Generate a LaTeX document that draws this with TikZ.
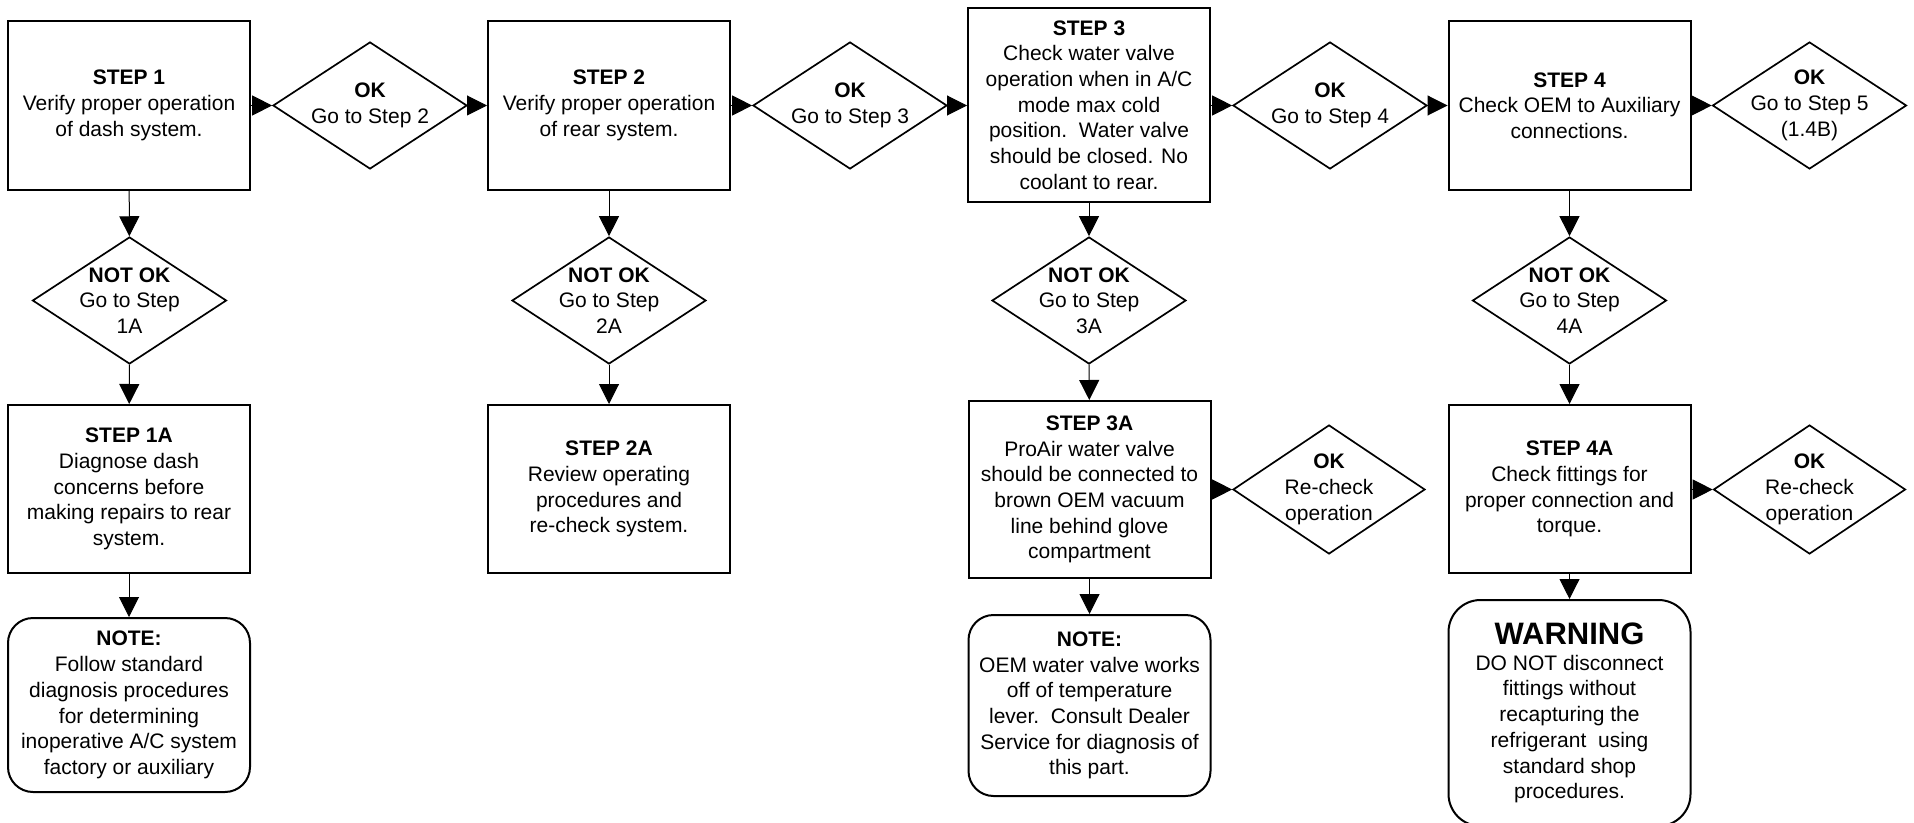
\documentclass[tikz,border=0pt]{standalone}
\usepackage{fontspec}
\setmainfont{Liberation Sans}
\usetikzlibrary{shapes.geometric,arrows.meta}
\newcommand{\fsz}{\fontsize{10.5}{12.85}\selectfont}
\begin{document}
\begin{tikzpicture}[x=0.5pt,y=-0.5pt,
  box/.style={draw, line width=1pt, rectangle, inner sep=0pt, minimum width=121pt, align=center, font=\fsz},
  notebox/.style={box, rounded corners=12.5pt},
  warnbox/.style={box, rounded corners=16pt},
  dia/.style={diamond, draw, line width=0.85pt, minimum width=97pt, minimum height=63.5pt, inner sep=0pt},
  txt/.style={align=center, font=\fsz, inner sep=0pt},
  arr/.style={line width=0.5pt, -{Triangle[length=10pt,width=10pt]}}
]
\useasboundingbox (0,0) rectangle (1914,823);
% main row
\node[box, minimum height=84.5pt] (s1) at (129,105.5) {\textbf{STEP 1}\\Verify proper operation\\of dash system.};
\node[box, minimum height=84.5pt] (s2) at (609,105.5) {\textbf{STEP 2}\\Verify proper operation\\of rear system.};
\node[box, minimum height=97pt] (s3) at (1089,105) {\textbf{STEP 3}\\Check water valve\\operation when in A/C\\mode max cold\\position.\ \ Water valve\\should be closed. No\\coolant to rear.};
\node[box, minimum height=84.5pt] (s4) at (1569.5,105.5) {\textbf{STEP 4}\\Check OEM to Auxiliary\\connections.};
% OK diamonds
\node[dia] (ok1) at (370,105.5) {};
\node[txt] (ok1t) at (ok1) {\textbf{OK}\\Go to Step 2};
\node[dia] (ok2) at (850,105.5) {};
\node[txt] (ok2t) at (ok2) {\textbf{OK}\\Go to Step 3};
\node[dia] (ok3) at (1330,105.5) {};
\node[txt] (ok3t) at (ok3) {\textbf{OK}\\Go to Step 4};
\node[dia] (ok4) at (1809.5,105.5) {};
\node[txt] (ok4t) at (ok4) {\textbf{OK}\\Go to Step 5\\(1.4B)};
% NOT OK diamonds
\node[dia] (no1) at (129.5,300.5) {};
\node[txt] (no1t) at (no1) {\textbf{NOT OK}\\Go to Step\\1A};
\node[dia] (no2) at (609,300.5) {};
\node[txt] (no2t) at (no2) {\textbf{NOT OK}\\Go to Step\\2A};
\node[dia] (no3) at (1089,300.5) {};
\node[txt] (no3t) at (no3) {\textbf{NOT OK}\\Go to Step\\3A};
\node[dia] (no4) at (1569.5,300.5) {};
\node[txt] (no4t) at (no4) {\textbf{NOT OK}\\Go to Step\\4A};
% A steps
\node[box, minimum height=84pt] (s1a) at (129,489) {\textbf{STEP 1A}\\Diagnose dash\\concerns before\\making repairs to rear\\system.};
\node[box, minimum height=84pt] (s2a) at (609,489) {\textbf{STEP 2A}\\Review operating\\procedures and\\re-check system.};
\node[box, minimum height=88.5pt] (s3a) at (1089.5,489.5) {\textbf{STEP 3A}\\ProAir water valve\\should be connected to\\brown OEM vacuum\\line behind glove\\compartment};
\node[box, minimum height=84pt] (s4a) at (1569.5,489) {\textbf{STEP 4A}\\Check fittings for\\proper connection and\\torque.};
% recheck diamonds
\node[dia, minimum height=64.5pt, minimum width=96pt] (rc3) at (1329,489.5) {};
\node[txt] (rc3t) at (rc3) {\textbf{OK}\\Re-check\\operation};
\node[dia, minimum height=64.5pt, minimum width=96pt] (rc4) at (1809.5,489.5) {};
\node[txt] (rc4t) at (rc4) {\textbf{OK}\\Re-check\\operation};
% notes
\node[notebox, minimum height=87pt] (n1) at (129,705) {\textbf{NOTE:}\\Follow standard\\diagnosis procedures\\for determining\\inoperative A/C system\\factory or auxiliary};
\node[notebox, minimum height=90.5pt] (n3) at (1089.5,705.5) {\textbf{NOTE:}\\OEM water valve works\\off of temperature\\lever.\ \ Consult Dealer\\Service for diagnosis of\\this part.};
\node[warnbox, minimum height=113pt] (w4) at (1569.5,713) {{\fontsize{15.5}{18}\selectfont\textbf{WARNING}}\\DO NOT disconnect\\fittings without\\recapturing the\\refrigerant\ \ using\\standard shop\\procedures.};
% connectors
\draw[arr] (s1) -- (ok1);
\draw[arr] (ok1) -- (s2);
\draw[arr] (s2) -- (ok2);
\draw[arr] (ok2.east) -- (ok2.east -| s3.west);
\draw[arr] (s3.east |- ok3.west) -- (ok3.west);
\draw[arr] (ok3) -- (s4);
\draw[arr] (s4) -- (ok4);
\draw[arr] (s1) -- (no1);
\draw[arr] (s2) -- (no2);
\draw[arr] (s3) -- (no3);
\draw[arr] (s4) -- (no4);
\draw[arr] (no1) -- (s1a);
\draw[arr] (no2) -- (s2a);
\draw[arr] (no3) -- (s3a);
\draw[arr] (no4) -- (s4a);
\draw[arr] (s1a) -- (n1);
\draw[arr] (s3a) -- (n3);
\draw[arr] (s4a) -- (w4);
\draw[arr] (s3a.east |- rc3.west) -- (rc3.west);
\draw[arr] (s4a.east |- rc4.west) -- (rc4.west);
\end{tikzpicture}
\end{document}
